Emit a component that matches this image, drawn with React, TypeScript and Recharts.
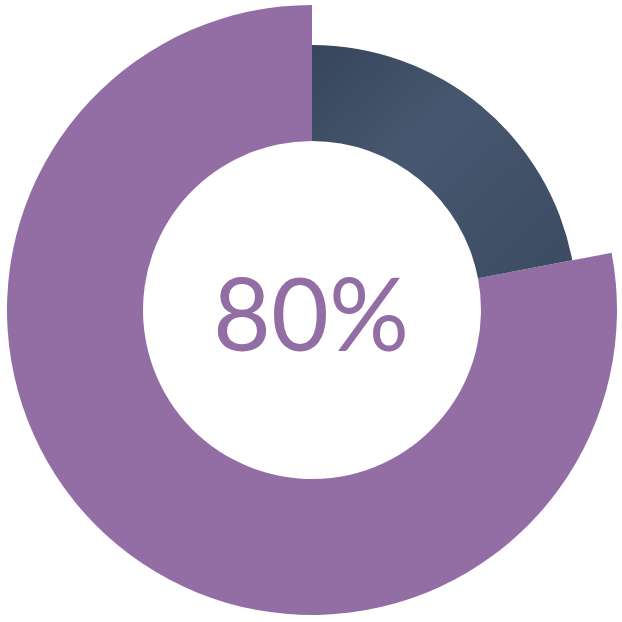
import { PieChart, Pie, Cell } from 'recharts';

// slice values (dark slice ends ~9.5° above horizontal)
const sliceNames = ['Other', 'Share'];
const sliceValues = [22, 78];
const centerLabel = '80%';

const PURPLE = '#926EA4';

export default function App() {
  const data = sliceNames.map((name, i) => ({ name, value: sliceValues[i] }));

  return (
    <div style={{ position: 'absolute', left: 0, top: 0, width: 622, height: 622, background: '#fff' }}>
      <PieChart width={622} height={622} margin={{ top: 0, right: 0, bottom: 0, left: 0 }}>
        <defs>
          <linearGradient id="slateGrad" x1="0" y1="0" x2="1" y2="1">
            <stop offset="0%" stopColor="#36455A" />
            <stop offset="40%" stopColor="#46576F" />
            <stop offset="100%" stopColor="#3B4B62" />
          </linearGradient>
        </defs>
        <Pie
          data={data}
          dataKey="value"
          cx={312}
          cy={310}
          innerRadius={169}
          outerRadius={305}
          startAngle={90}
          endAngle={-270}
          stroke="none"
          isAnimationActive={false}
        >
          <Cell fill="transparent" />
          <Cell fill={PURPLE} />
        </Pie>
        <Pie
          data={data}
          dataKey="value"
          cx={312}
          cy={310}
          innerRadius={169}
          outerRadius={265}
          startAngle={90}
          endAngle={-270}
          stroke="none"
          isAnimationActive={false}
        >
          <Cell fill="url(#slateGrad)" />
          <Cell fill="transparent" />
        </Pie>
        <text
          x={311}
          y={312}
          textAnchor="middle"
          dominantBaseline="central"
          fill={PURPLE}
          style={{ fontFamily: 'Lato, sans-serif', fontWeight: 400, fontSize: 100 }}
        >
          {centerLabel}
        </text>
      </PieChart>
    </div>
  );
}
